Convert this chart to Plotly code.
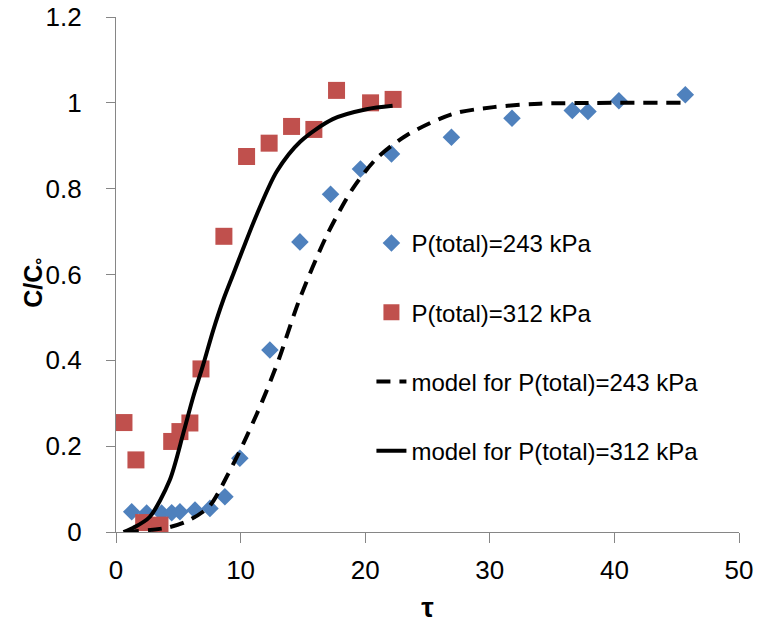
import plotly.graph_objects as go

tau_243 = [1.26, 2.46, 3.66, 4.47, 5.13, 6.34, 7.54, 8.74, 9.94, 12.35, 14.76, 17.22,
           19.62, 22.11, 26.92, 31.78, 36.62, 37.88, 40.36, 45.69]
c_243 = [0.047, 0.044, 0.044, 0.045, 0.047, 0.051, 0.055, 0.082, 0.172, 0.424, 0.676,
         0.787, 0.846, 0.881, 0.92, 0.964, 0.982, 0.98, 1.005, 1.019]

tau_312 = [0.64, 1.6, 2.22, 3.53, 4.47, 5.13, 5.93, 6.82, 8.66, 10.48, 12.29, 14.09,
           15.88, 17.7, 20.43, 22.24]
c_312 = [0.255, 0.168, 0.022, 0.016, 0.211, 0.234, 0.254, 0.38, 0.689, 0.875, 0.906,
         0.945, 0.938, 1.029, 1.0, 1.008]

# Model curves
tau_m243 = [0.7, 4.1, 5.9, 7.5, 9.0, 10.2, 11.3, 12.1, 13.1, 14.7, 16.9, 19.0, 20.9,
            23.3, 27.0, 30.3, 34.0, 45.5]
c_m243 = [0.0, 0.01, 0.028, 0.06, 0.135, 0.205, 0.275, 0.33, 0.405, 0.54, 0.69, 0.8,
          0.87, 0.924, 0.974, 0.99, 0.998, 1.0]

tau_m312 = [0.6, 1.4, 2.7, 4.3, 5.4, 6.2, 7.0, 7.8, 8.6, 9.4, 10.2, 11.3, 12.9, 14.8,
            17.4, 20.1, 22.2]
c_m312 = [0.0, 0.01, 0.035, 0.12, 0.23, 0.315, 0.39, 0.47, 0.54, 0.6, 0.66, 0.74, 0.84,
          0.91, 0.962, 0.985, 0.993]

x_ticks = [0, 10, 20, 30, 40, 50]
y_ticks = [0, 0.2, 0.4, 0.6, 0.8, 1, 1.2]
y_tick_text = ["0", "0.2", "0.4", "0.6", "0.8", "1", "1.2"]

FONT = "Liberation Sans, Arial, sans-serif"
AXIS_GRAY = "#868686"

fig = go.Figure()
fig.add_trace(go.Scatter(
    x=tau_243, y=c_243, mode="markers", name="P(total)=243 kPa", legendgroup="a",
    marker=dict(symbol="diamond", size=13.5, color="#4F81BD")))
fig.add_trace(go.Scatter(
    x=tau_312, y=c_312, mode="markers", name="P(total)=312 kPa", legendgroup="b",
    marker=dict(symbol="square", size=17, color="#C0504D")))
fig.add_trace(go.Scatter(
    x=tau_m243, y=c_m243, mode="lines", name="model for P(total)=243 kPa", legendgroup="c",
    line=dict(color="black", width=4, dash="14px,9px", shape="spline", smoothing=0.8)))
fig.add_trace(go.Scatter(
    x=tau_m312, y=c_m312, mode="lines", name="model for P(total)=312 kPa", legendgroup="d",
    line=dict(color="black", width=4, shape="spline", smoothing=0.8)))

fig.update_layout(
    width=758, height=630,
    margin=dict(l=116, r=19, t=17, b=98),
    paper_bgcolor="white", plot_bgcolor="white",
    font=dict(family=FONT, size=24, color="black"),
    showlegend=True,
    legend=dict(x=0.41, y=0.604, xanchor="left", yanchor="top",
                bgcolor="rgba(0,0,0,0)", tracegroupgap=35,
                font=dict(family=FONT, size=24, color="black")),
    xaxis=dict(range=[0, 50], tickvals=x_ticks, showgrid=False, zeroline=False,
               showline=True, linecolor=AXIS_GRAY, linewidth=1.3, automargin=False,
               ticks="outside", tickcolor=AXIS_GRAY, ticklen=10, ticklabelstandoff=5,
               tickfont=dict(family=FONT, size=26),
               title=dict(text="<b>τ</b>", font=dict(family=FONT, size=28), standoff=13)),
    yaxis=dict(range=[0, 1.2], tickvals=y_ticks, ticktext=y_tick_text, showgrid=False,
               zeroline=False, showline=True, linecolor=AXIS_GRAY, linewidth=1.3,
               automargin=False,
               ticks="outside", tickcolor=AXIS_GRAY, ticklen=9, ticklabelstandoff=19,
               tickfont=dict(family=FONT, size=26)),
    annotations=[dict(text="<b>C/C<sub>°</sub></b>", xref="paper", yref="paper",
                      x=-0.13, y=0.484, xanchor="center", yanchor="middle",
                      textangle=-90, showarrow=False,
                      font=dict(family=FONT, size=25, color="black"))],
)

fig.write_html("out.html")
